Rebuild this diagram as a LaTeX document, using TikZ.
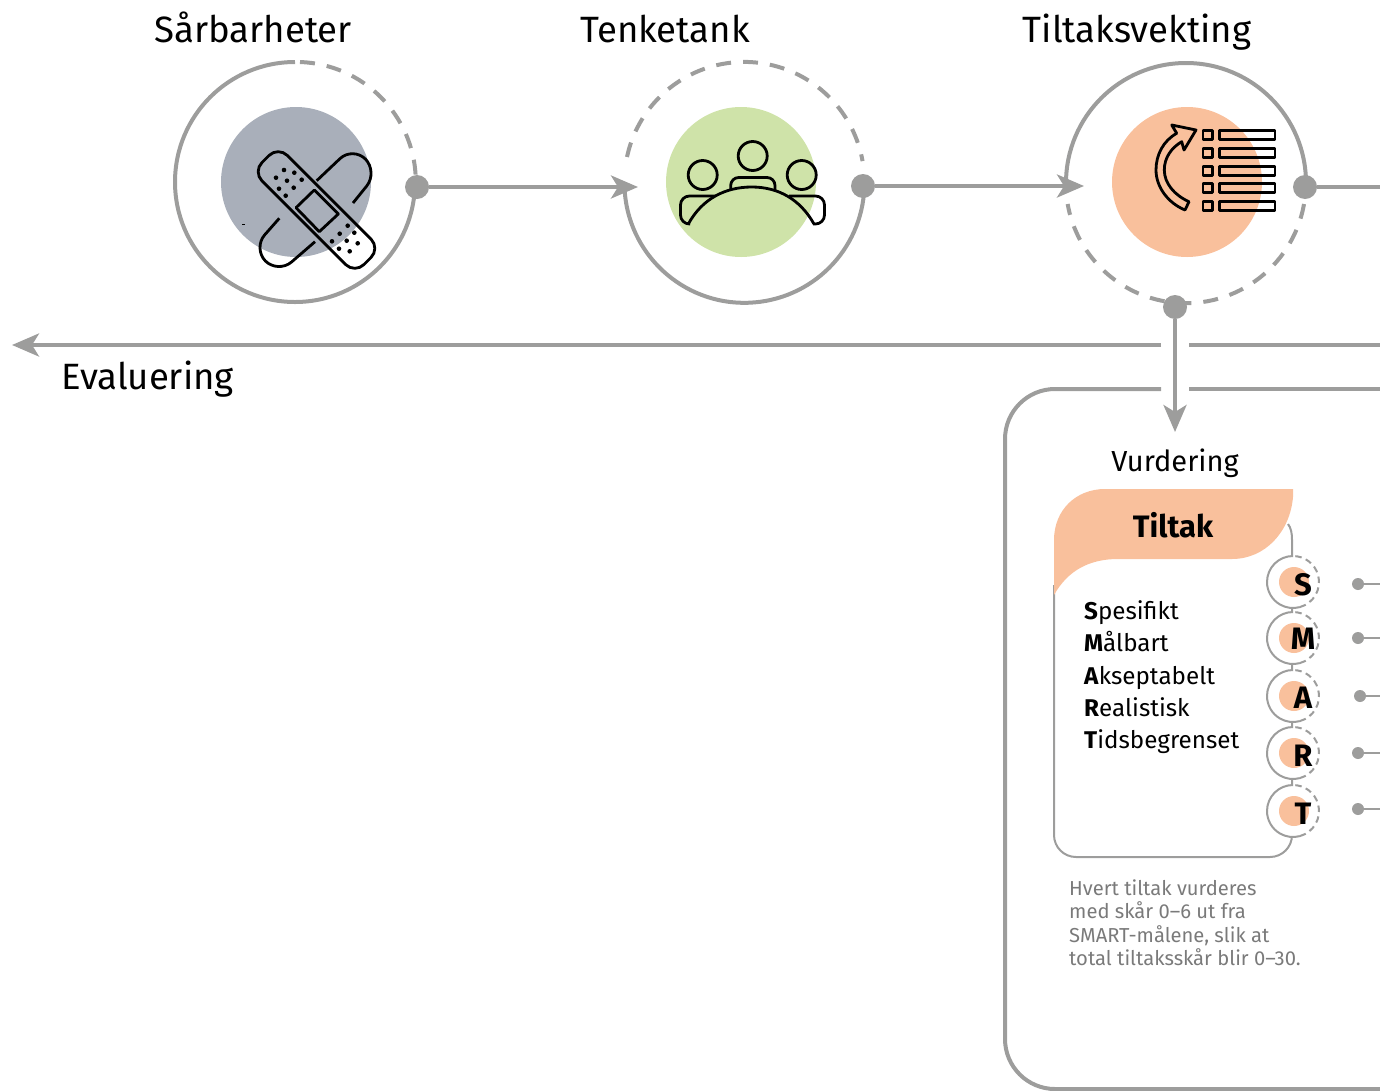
\documentclass[tikz,border=0pt]{standalone}
\usepackage{fontspec}
\setmainfont{Fira Sans}
\usetikzlibrary{arrows.meta}
\definecolor{gr}{HTML}{9D9D9C}
\definecolor{sl}{HTML}{A9AFBA}
\definecolor{grn}{HTML}{CFE3A9}
\definecolor{org}{HTML}{F9C09C}
\definecolor{txg}{HTML}{7A7A7A}
\tikzset{
 ring/.style={draw=gr,line width=4pt},
 ringdash/.style={ring,dash pattern=on 15pt off 12pt},
 smallring/.style={draw=gr,line width=2pt},
 smalldash/.style={smallring,dash pattern=on 6.5pt off 4.5pt},
 bigdot/.style={circle,fill=gr,inner sep=0pt,minimum size=24pt},
 tinydot/.style={circle,fill=gr,inner sep=0pt,minimum size=12pt},
 conn/.style={draw=gr,line width=4pt},
 arrowconn/.style={conn,-{Stealth[length=27pt,width=23pt,inset=7pt]}},
 thinconn/.style={draw=gr,line width=2pt},
 icon/.style={draw=black,line width=2.8pt,line join=round},
 title/.style={anchor=base,inner sep=0pt,font=\fontsize{36.6}{37}\selectfont},
 vtext/.style={anchor=base,inner sep=0pt,font=\fontsize{29}{30}\selectfont},
 listtext/.style={anchor=base west,inner sep=0pt,font=\fontsize{24.2}{24.5}\selectfont},
 notetext/.style={anchor=base west,inner sep=0pt,text=txg,font=\fontsize{20.2}{20.5}\selectfont},
 letter/.style={anchor=base,inner sep=0pt,font=\fontsize{31}{31}\selectfont\bfseries},
}
\begin{document}
\begin{tikzpicture}[x=1pt,y=-1pt]
\useasboundingbox (0,0) rectangle (1380,1090);
% fills
\fill[sl] (296,182) circle[radius=75pt];
\fill[grn] (741,182) circle[radius=75pt];
\fill[org] (1187,182) circle[radius=75pt];
% ring 1
\draw[ring] (295,62) arc[start angle=90,end angle=360,radius=120pt];
\draw[ringdash] (300,62) arc[start angle=88,end angle=2,radius=120pt];
% ring 2
\draw[ring] (624.5,187) arc[start angle=182,end angle=358,radius=120pt];
\draw[ringdash] (627,157) arc[start angle=168,end angle=10,radius=120pt];
% ring 3
\draw[ring] (1066,183) arc[start angle=180,end angle=0,radius=120pt];
\draw[ringdash] (1304,204) arc[start angle=-10,end angle=-170,radius=120pt];
% titles
\node[title] (t1) at (253,42) {Sårbarheter};
\node[title] (t2) at (665,42) {Tenketank};
\node[title] (t3) at (1137,42) {Tiltaksvekting};
\node[title,anchor=base west] (ev) at (61,389) {Evaluering};
\node[vtext] (vu) at (1175,471) {Vurdering};
% connectors
\node[bigdot] (d1) at (417,187) {};
\node[bigdot] (d2) at (863,186) {};
\node[bigdot] (d3) at (1305,187) {};
\node[bigdot] (d4) at (1175,307) {};
\coordinate (a1) at (638,187);
\coordinate (a2) at (1084,186);
\coordinate (a3) at (1380,187);
\coordinate (a4) at (1175,432);
\draw[arrowconn] (d1) -- (a1);
\draw[arrowconn] (d2) -- (a2);
\draw[conn] (d3) -- (a3);
\draw[arrowconn] (d4) -- (a4);
\coordinate (e0) at (1380,345);
\coordinate (e1) at (1189,345);
\coordinate (e2) at (1161,345);
\coordinate (e3) at (12,345);
\draw[conn] (e0) -- (e1);
\draw[arrowconn] (e2) -- (e3);
% outer box
\draw[conn] (1380,389) -- (1189,389);
\draw[conn] (1161,389) -- (1055,389) arc[start angle=90,end angle=180,radius=50pt] -- (1005,1039) arc[start angle=180,end angle=270,radius=50pt] -- (1380,1089);
% card
\draw[smallring] (1054,585) -- (1054,835) arc[start angle=180,end angle=270,radius=22pt] -- (1270,857) arc[start angle=270,end angle=360,radius=22pt] -- (1292,540) .. controls (1292,533) and (1291,528) .. (1288,524);
\fill[org] (1054,595) -- (1054,540) .. controls (1054,510) and (1076,489) .. (1105,489) -- (1293,489) -- (1293,497) .. controls (1290,532) and (1265,559) .. (1232,559) -- (1118,559) .. controls (1090,559) and (1068,570) .. (1054,595) -- cycle;
\node[anchor=base,inner sep=0pt,font=\fontsize{31}{31}\selectfont\bfseries] (tk) at (1173,537) {Tiltak};
\node[listtext] (l1) at (1084,619) {\textbf{S}pesifikt};
\node[listtext] (l2) at (1084,651) {\textbf{M}ålbart};
\node[listtext] (l3) at (1084,684) {\textbf{A}kseptabelt};
\node[listtext] (l4) at (1084,716) {\textbf{R}ealistisk};
\node[listtext] (l5) at (1084,748) {\textbf{T}idsbegrenset};
\node[notetext] (n1) at (1069,895) {Hvert tiltak vurderes};
\node[notetext] (n2) at (1069,918) {med skår 0–6 ut fra};
\node[notetext] (n3) at (1069,942) {SMART-målene, slik at};
\node[notetext] (n4) at (1069,965) {total tiltaksskår blir 0–30.};
% SMART rings
\foreach \nm/\yy/\ly/\dy/\dx in {S/582/595/584/1358,M/638/649/638/1358,A/696/708/696/1360,R/753/766/753/1358,T/811/824/809/1358}{
  \fill[white] (1293,\yy) circle[radius=26pt];
  \fill[org] (1294,\yy) circle[radius=15pt];
  \draw[smallring] (1293,\yy) ++(90:26pt) arc[start angle=90,end angle=285,radius=26pt];
  \draw[smalldash] (1293,\yy) ++(285:26pt) arc[start angle=285,end angle=450,radius=26pt];
  \node[letter] (L\nm) at (1303,\ly) {\nm};
  \node[tinydot] (D\nm) at (\dx,\dy) {};
  \coordinate (E\nm) at (1380,\dy);
  \draw[thinconn] (D\nm) -- (E\nm);
}
% bandage
\begin{scope}[icon]
\draw[rounded corners=18pt] (316.7,180.7) -- (353,146.3) -- (378,172) -- (353,203);
\draw[rounded corners=18pt] (279.3,218.3) -- (252.8,248.3) -- (278,273.7) -- (315,241.7);
\draw[rounded corners=13pt] (278.2,146.3) -- (380.2,248.3) -- (354.8,273.7) -- (252.8,171.7) -- cycle;
\draw (314.3,190) -- (338.3,214) -- (319.3,231.7) -- (296,207.7) -- cycle;
\end{scope}
\foreach \p in {(284,170),(294.3,172.7),(276,177.7),(287,180.7),(301.7,179.7),(279,188.7),(293.7,187.7),(285.7,195.7),(347.7,225.7),(339.7,233.7),(354.3,232.7),(346.7,240.7),(332,241.3),(357.7,243.3),(339,248.7),(349.7,251.3)}
  \fill[black] \p circle[radius=2.3pt];
\draw[black,line width=0.8pt] (242,224) -- (245,224);
% people
\begin{scope}[icon]
\draw (752.7,156) circle[radius=14.5pt];
\draw (702.7,175) circle[radius=14.5pt];
\draw (801.7,175) circle[radius=14.5pt];
\draw[rounded corners=8pt] (730.7,189.5) -- (730.7,177.5) -- (775,177.5) -- (775,191);
\draw (688.3,224) .. controls (702,199) and (725,187) .. (751.7,187) .. controls (778,187) and (800,199) .. (814,224);
\draw[rounded corners=9pt] (690,224) -- (680.5,224) -- (680.5,196) -- (715,196);
\draw[rounded corners=9pt] (813,224) -- (824.5,224) -- (824.5,196) -- (789,196);
\end{scope}
% checklist
\begin{scope}[icon]
\foreach \yy in {135.3,153,170.7,188.3,206}{
  \draw (1203,\yy-4.5) rectangle (1212.5,\yy+4.5);
  \draw (1219.3,\yy-4.5) rectangle (1275,\yy+4.5);
}
\draw (1196,130) -- (1171.7,125) -- (1176.7,133.3) .. controls (1163,141) and (1156,155) .. (1156,170) .. controls (1156,187) and (1168,203) .. (1185,210) -- (1189,201.7) .. controls (1174,195) and (1164.3,183) .. (1164.3,170) .. controls (1164.3,158) and (1171,148) .. (1181.7,141.7) -- (1184,150) -- cycle;
\end{scope}
\end{tikzpicture}
\end{document}
